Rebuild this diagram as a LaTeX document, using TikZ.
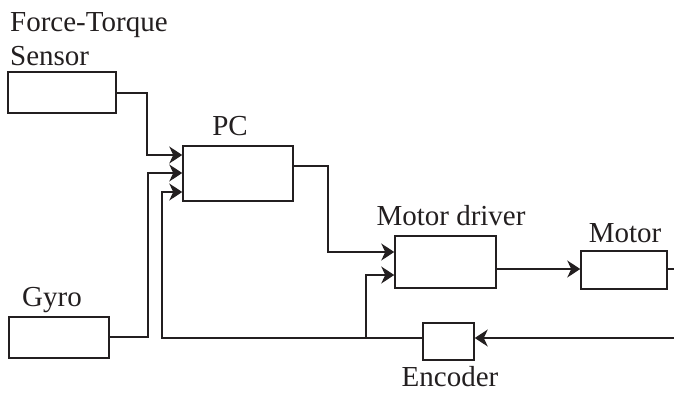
\documentclass[tikz,border=0pt]{standalone}
\usepackage{fontspec}
\setmainfont{Liberation Serif}
\usetikzlibrary{arrows.meta}
\definecolor{ink}{HTML}{231F20}
\tikzset{tipA/.tip={Stealth[length=13pt,width=17pt,inset=4pt]}}
\begin{document}
\begin{tikzpicture}[x=1pt,y=-1pt,
  blk/.style={draw=ink,line width=1.5pt,inner sep=0pt,minimum width=#1},
  arr/.style={draw=ink,line width=1.5pt,-tipA},
  ln/.style={draw=ink,line width=1.5pt},
  lbl/.style={font=\fontsize{29}{34}\selectfont,text=ink,inner sep=0pt}]
\useasboundingbox (0,0) rectangle (674,394);
% boxes
\node[blk=108pt,minimum height=41pt] (fts) at (62,92.5) {};
\node[blk=100pt,minimum height=41pt] (gyro) at (59,337.5) {};
\node[blk=110pt,minimum height=55pt] (pc) at (238,173.5) {};
\node[blk=101pt,minimum height=52pt] (md) at (445.5,262) {};
\node[blk=86pt,minimum height=38pt] (motor) at (624,270) {};
\node[blk=51pt,minimum height=37pt] (enc) at (448.5,341.5) {};
% labels
\node[lbl,anchor=base west] (tft) at (10,31) {Force-Torque};
\node[lbl,anchor=base west] (tse) at (10,65) {Sensor};
\node[lbl,anchor=base] (tpc) at (230,135) {PC};
\node[lbl,anchor=base] (tgy) at (52,306) {Gyro};
\node[lbl,anchor=base] (tmd) at (451,225) {Motor driver};
\node[lbl,anchor=base] (tmo) at (625,242) {Motor};
\node[lbl,anchor=base] (ten) at (450,386) {Encoder};
% free ends
\coordinate (mout) at (674,269);
\coordinate (fbin) at (674,338);
\coordinate (br) at (366,338);
% connectors
\draw[arr] (fts.east |- 0,93) -- (147,93) -- (147,155) -- (pc.west |- 0,155);
\draw[arr] (gyro.east |- 0,337) -- (148,337) -- (148,173) -- (pc.west |- 0,173);
\draw[arr] (enc.west |- 0,338) -- (162,338) -- (162,192) -- (pc.west |- 0,192);
\draw[arr] (br) -- (366,275) -- (md.west |- 0,275);
\draw[arr] (pc.east |- 0,166) -- (328,166) -- (328,252) -- (md.west |- 0,252);
\draw[arr] (md.east |- 0,269) -- (motor.west |- 0,269);
\draw[ln] (motor.east |- 0,269) -- (mout);
\draw[arr] (fbin) -- (enc.east |- 0,338);
\end{tikzpicture}
\end{document}
